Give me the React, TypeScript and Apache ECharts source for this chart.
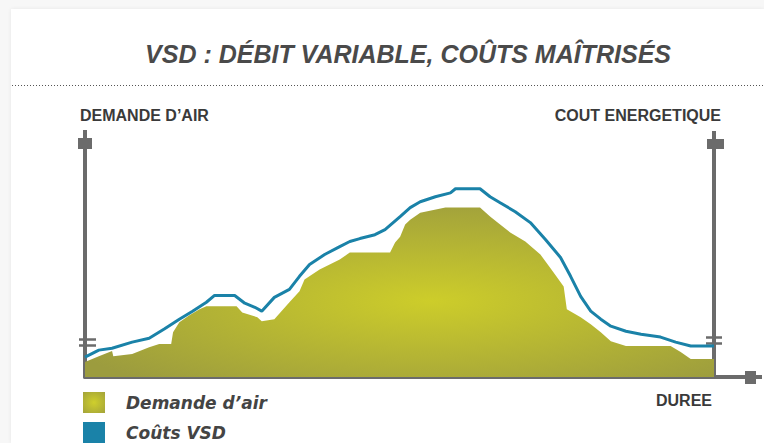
import React, { useEffect, useRef } from "react";
import * as echarts from "echarts";

// Durée (0–100) and Demande d'air (0–100, % of axis height)
const demandTime = [0, 2.2, 4.3, 4.5, 7.5, 10.2, 11.8, 13.7, 14.0, 15.0, 16.6, 18.2, 19.3, 24.1, 25.0, 27.4, 28.1, 30.1, 32.5, 34.1, 34.9, 37.3, 40.5, 42.1, 48.5, 49.3, 50.1, 50.9, 51.7, 53.3, 57.3, 62.8, 64.4, 66.0, 67.6, 70.0, 72.4, 74.5, 76.1, 76.6, 78.8, 80.4, 82.0, 83.6, 86.0, 93.1, 94.7, 96.3, 100];
const demandValue = [6.2, 8.6, 10.7, 8.6, 9.5, 12.3, 13.6, 13.6, 18.5, 22.6, 25.5, 28.0, 29.2, 29.2, 26.7, 24.7, 23.0, 23.9, 30.9, 35.4, 40.3, 44.4, 48.6, 51.4, 51.4, 55.6, 58.0, 63.0, 65.0, 67.9, 70.0, 70.0, 66.3, 63.0, 59.7, 56.0, 50.6, 43.2, 37.4, 28.0, 24.7, 21.8, 18.5, 14.8, 12.8, 12.8, 10.3, 7.4, 7.4];

// Coûts VSD
const costTime = [0, 2.2, 4.3, 7.5, 10.2, 12.6, 15.0, 17.1, 19.3, 20.6, 23.8, 25.4, 27.0, 28.1, 30.1, 32.5, 34.1, 35.7, 38.1, 40.5, 42.1, 43.7, 46.1, 47.7, 50.1, 51.7, 53.3, 55.7, 58.1, 58.9, 62.8, 64.4, 66.0, 68.4, 70.8, 73.2, 75.6, 77.2, 78.8, 80.4, 82.0, 83.6, 86.0, 88.4, 91.5, 93.9, 96.3, 100];
const costValue = [8.2, 11.1, 11.9, 14.4, 16.0, 19.8, 23.9, 27.2, 30.9, 33.7, 33.7, 30.5, 28.8, 27.2, 32.9, 36.2, 41.6, 46.5, 50.6, 53.9, 56.0, 57.2, 58.8, 60.9, 66.3, 70.0, 72.4, 74.5, 76.1, 77.8, 77.8, 74.5, 72.0, 68.3, 63.8, 56.8, 49.4, 41.6, 33.3, 27.2, 23.9, 21.0, 18.9, 17.7, 16.5, 14.4, 12.8, 12.8];

const seriesNames = ["Demande d’air", "Coûts VSD"];
const titleText = "VSD : DÉBIT VARIABLE, COÛTS MAÎTRISÉS";
const leftAxisName = "DEMANDE D’AIR";
const rightAxisName = "COUT ENERGETIQUE";
const xAxisName = "DUREE";

const GRAY = "#6b6b6b";
const BLUE = "#1a82a8";
const SANS = "'Liberation Sans', Arial, sans-serif";

export default function App() {
  const ref = useRef<HTMLDivElement>(null);
  useEffect(() => {
    if (!ref.current) return;
    const chart = echarts.init(ref.current, undefined, { renderer: "svg" });
    const areaGrad = new echarts.graphic.RadialGradient(0.55, 0.55, 0.65, [
      { offset: 0, color: "#cdcd2a" },
      { offset: 1, color: "#9c9c3e" },
    ]);
    const legendGrad = new echarts.graphic.RadialGradient(0.5, 0.5, 0.7, [
      { offset: 0, color: "#cfcf2c" },
      { offset: 1, color: "#a3a33a" },
    ]);
    const txt = (x: number, y: number, text: string, font: string, align: string, fill = "#444") => ({
      type: "text",
      x,
      y,
      style: { text, font, fill, textAlign: align, textVerticalAlign: "middle", align, verticalAlign: "middle" },
    });
    const ln = (x1: number, y1: number, x2: number, y2: number, w: number, dash?: number[]) => ({
      type: "line",
      shape: { x1, y1, x2, y2 },
      style: { stroke: dash ? "#555" : GRAY, lineWidth: w, lineDash: dash },
    });
    const rc = (x: number, y: number, width: number, height: number) => ({
      type: "rect",
      shape: { x, y, width, height },
      style: { fill: GRAY },
    });
    const legendText = {
      fontFamily: "'DejaVu Sans', sans-serif",
      fontStyle: "italic",
      fontWeight: "bold",
      fontSize: 17,
      color: "#444",
      padding: [0, 0, 0, 16],
    };
    chart.setOption({
      animation: false,
      grid: { left: 85, right: 50, top: 135, bottom: 66 },
      xAxis: {
        type: "value",
        min: 0,
        max: 100,
        axisLine: { show: true, lineStyle: { color: GRAY, width: 4 } },
        axisTick: { show: false },
        axisLabel: { show: false },
        splitLine: { show: false },
      },
      yAxis: [
        {
          type: "value",
          min: 0,
          max: 100,
          position: "left",
          axisLine: { show: true, lineStyle: { color: GRAY, width: 4 } },
          axisTick: { show: false },
          axisLabel: { show: false },
          splitLine: { show: false },
        },
        {
          type: "value",
          min: 0,
          max: 100,
          position: "right",
          axisLine: { show: true, lineStyle: { color: GRAY, width: 4 } },
          axisTick: { show: false },
          axisLabel: { show: false },
          splitLine: { show: false },
        },
      ],
      legend: [
        {
          left: 83,
          top: 392,
          padding: 0,
          itemWidth: 22,
          itemHeight: 21,
          textStyle: legendText,
          data: [{ name: seriesNames[0], icon: "rect", itemStyle: { color: legendGrad } }],
        },
        {
          left: 83,
          top: 422,
          padding: 0,
          itemWidth: 22,
          itemHeight: 21,
          textStyle: legendText,
          data: [{ name: seriesNames[1], icon: "rect", itemStyle: { color: BLUE } }],
        },
      ],
      series: [
        {
          name: seriesNames[0],
          type: "line",
          data: demandTime.map((t, i) => [t, demandValue[i]]),
          symbol: "none",
          lineStyle: { width: 0 },
          itemStyle: { color: "#b5b531" },
          areaStyle: { color: areaGrad, opacity: 1 },
          z: 2,
        },
        {
          name: seriesNames[1],
          type: "line",
          data: costTime.map((t, i) => [t, costValue[i]]),
          symbol: "none",
          lineStyle: { width: 3, color: BLUE },
          itemStyle: { color: BLUE },
          z: 3,
        },
      ],
      graphic: [
        ln(12, 85.5, 764, 85.5, 1, [1, 2]),
        txt(408, 54, titleText, `italic bold 25px ${SANS}`, "center", "#4a4a4a"),
        txt(80, 115, leftAxisName, `bold 16px ${SANS}`, "left", "#3a3a3a"),
        txt(721, 115, rightAxisName, `bold 16px ${SANS}`, "right", "#3a3a3a"),
        txt(712, 400, xAxisName, `bold 16px ${SANS}`, "right", "#3a3a3a"),
        // axis caps
        ln(85, 130, 85, 140, 4),
        rc(78, 138, 14, 11),
        ln(714, 131, 714, 140, 4),
        rc(707, 139, 17, 10),
        ln(712, 377, 762, 377, 4),
        rc(745, 371, 11, 13),
        // axis breaks
        ln(79, 339.5, 96, 339.5, 2.5),
        ln(79, 345.5, 96, 345.5, 2.5),
        ln(706, 337.5, 722, 337.5, 2.5),
        ln(706, 343.5, 722, 343.5, 2.5),
      ],
    });
    return () => chart.dispose();
  }, []);
  return (
    <div style={{ position: "fixed", left: 0, top: 0, width: 764, height: 443, background: "#f7f7f7", overflow: "hidden" }}>
      <div style={{ position: "absolute", left: 11, top: 9, right: 0, bottom: 0, background: "#fff", boxShadow: "0 0 4px rgba(0,0,0,0.07)" }} />
      <div ref={ref} style={{ position: "absolute", left: 0, top: 0, width: 764, height: 443 }} />
    </div>
  );
}
